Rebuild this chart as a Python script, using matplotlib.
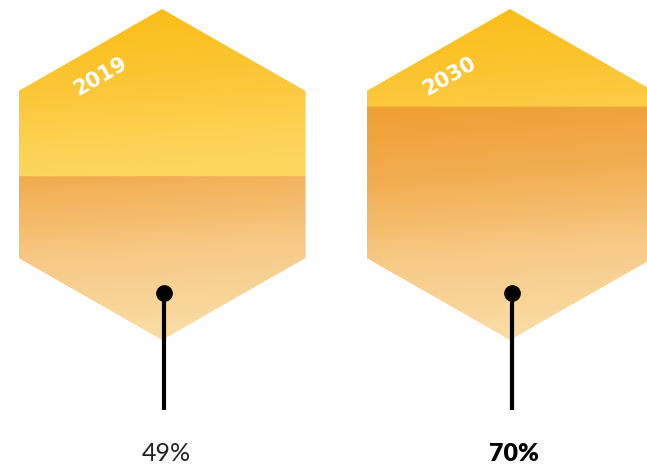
import numpy as np
import matplotlib
matplotlib.use('Agg')
from matplotlib import pyplot as plt
from matplotlib.patches import Polygon
from matplotlib.colors import LinearSegmentedColormap

# chart values
years = ['2019', '2030']
shares = [49, 70]
share_labels = ['49%', '70%']
label_bold = [False, True]

W, H = 647, 468
centers = [162, 510]
hex_top, hex_bottom = 9, 340
half_w = 143.5
corner_hi, corner_lo = 91, 258

top_cmap = LinearSegmentedColormap.from_list('top', ['#fbbd14', '#fcc737', '#fdd65f'])
low_cmap = LinearSegmentedColormap.from_list('low', ['#ef9f33', '#f2ae52', '#f7c985', '#fadba2'])

fig = plt.figure(figsize=(W / 100, H / 100), dpi=100)
ax = fig.add_axes([0, 0, 1, 1])
ax.set_xlim(0, W)
ax.set_ylim(H, 0)
ax.axis('off')


def hexagon(cx):
    return [(cx, hex_top), (cx + half_w, corner_hi), (cx + half_w, corner_lo),
            (cx, hex_bottom), (cx - half_w, corner_lo), (cx - half_w, corner_hi)]


for cx, year, share, lab, bold in zip(centers, years, shares, share_labels, label_bold):
    x0, x1 = cx - half_w, cx + half_w
    xs = np.linspace(x0, x1, 200)
    ys = np.linspace(hex_top, hex_bottom, 400)
    gx, gy = np.meshgrid(xs, ys)
    # fill level measured from the bottom point of the hexagon
    level = hex_bottom - 1.5 - share / 100 * (hex_bottom - hex_top)

    rgba = top_cmap(np.clip((gy - hex_top) / (175 - hex_top) + 0.12 * (gx - x0) / (x1 - x0), 0, 1))
    low = low_cmap(np.clip((gy - 108) / (hex_bottom - 108) + 0.1 * (gx - x0) / (x1 - x0), 0, 1))
    mask = gy >= level
    rgba[mask] = low[mask]

    poly = Polygon(hexagon(cx), closed=True, facecolor='none', edgecolor='none')
    ax.add_patch(poly)
    im = ax.imshow(rgba, extent=(x0, x1, hex_bottom, hex_top), origin='upper',
                   interpolation='bilinear', aspect='auto', zorder=1)
    im.set_clip_path(poly)

    # year label along the upper-left edge
    ax.text(cx - 61, 76, year, rotation=30, ha='center', va='center', rotation_mode='anchor',
            color='white', fontsize=15, fontweight='bold', family='DejaVu Sans', zorder=3)

    # pin
    ax.plot([cx + 2, cx + 2], [293, 410], color='black', lw=3, solid_capstyle='butt', zorder=3)
    ax.plot([cx + 2], [293], 'o', color='black', ms=11, zorder=4)

    if bold:
        ax.text(cx + 4, 461, lab, ha='center', va='baseline', fontsize=18,
                fontweight='heavy', family='Lato', color='black')
    else:
        ax.text(cx + 4, 461, lab, ha='center', va='baseline', fontsize=18,
                fontweight='normal', family='Lato', color='#222222')

fig.savefig('out.png', dpi=100)
